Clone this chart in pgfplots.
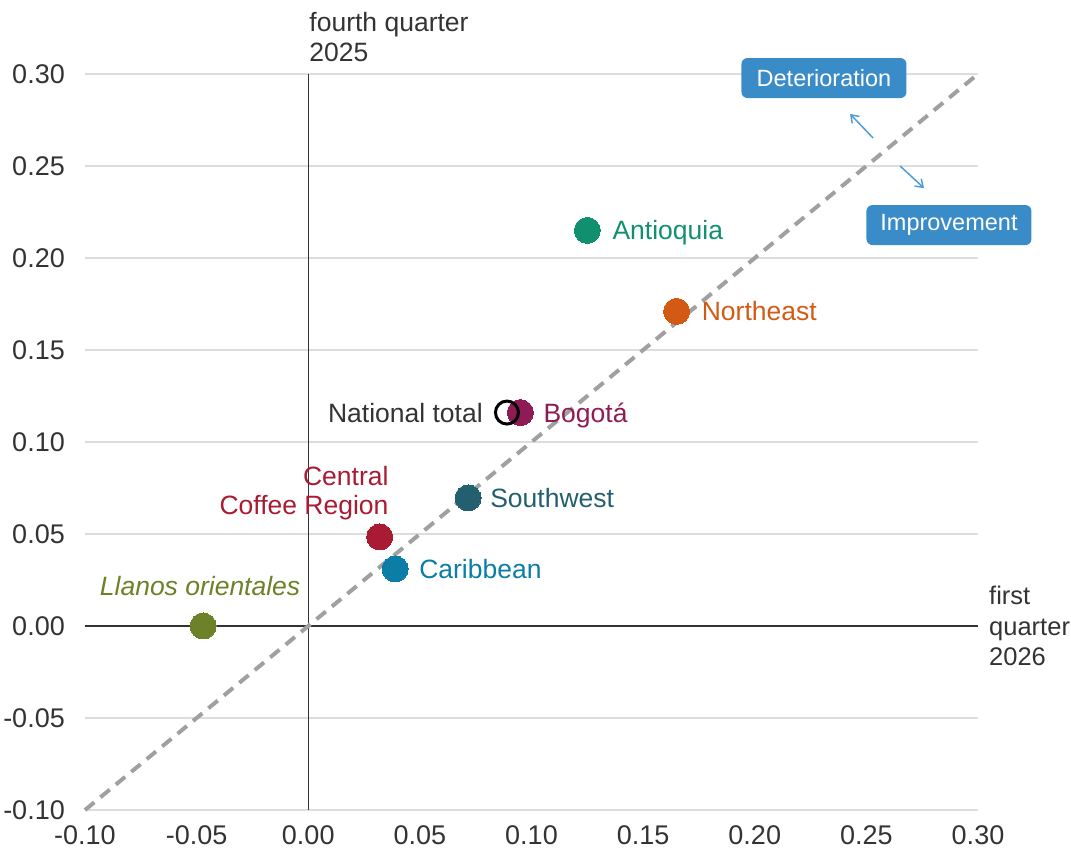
\documentclass[border=0pt]{standalone}
\usepackage{fontspec}
\setmainfont{Liberation Sans}
\usepackage{pgfplots}
\pgfplotsset{compat=1.18}
\usetikzlibrary{arrows.meta}
\definecolor{antC}{HTML}{11906F}
\definecolor{neC}{HTML}{D35A14}
\definecolor{bogC}{HTML}{8E1B55}
\definecolor{swC}{HTML}{245F70}
\definecolor{ccC}{HTML}{A81B33}
\definecolor{carC}{HTML}{0B7DA6}
\definecolor{llC}{HTML}{6C8128}
\definecolor{boxC}{HTML}{3A8CC8}
\definecolor{arrC}{HTML}{4E9DD3}
\definecolor{diagC}{HTML}{A0A0A0}
\definecolor{gridC}{HTML}{DDDDDD}
\definecolor{txtC}{HTML}{333333}
\tikzset{lab/.style={font=\fontsize{26.5}{29}\selectfont, inner sep=0pt}}
\begin{document}
\begin{tikzpicture}[x=1pt,y=1pt]
\useasboundingbox (-85,-49) rectangle (986,810);
\begin{axis}[
  at={(0,0)}, anchor=south west,
  scale only axis, width=893pt, height=736pt,
  xmin=-0.1, xmax=0.3, ymin=-0.1, ymax=0.3,
  xtick={-0.1,-0.05,0,0.05,0.1,0.15,0.2,0.25,0.3},
  ytick={-0.1,-0.05,0,0.05,0.1,0.15,0.2,0.25,0.3},
  axis line style={draw=none},
  major tick length=0pt,
  ymajorgrids, grid style={draw=gridC, line width=1.3pt},
  tick label style={font=\fontsize{27}{32}\selectfont, text=txtC, inner sep=0pt},
  xticklabel style={anchor=north, yshift=-15pt},
  yticklabel style={anchor=east, xshift=-20pt},
  /pgf/number format/fixed, /pgf/number format/fixed zerofill,
  /pgf/number format/precision=2, /pgf/number format/assume math mode=true,
  clip=false,
]
\draw[txtC, line width=1.5pt] (axis cs:0,-0.1) -- (axis cs:0,0.3);
\draw[txtC, line width=1.5pt] (axis cs:-0.1,0) -- (axis cs:0.3,0);
\addplot[diagC, line width=4pt, dash pattern=on 12pt off 8pt] coordinates {(-0.1,-0.1) (0.3,0.3)};

\addplot[only marks, mark=*, mark size=13pt, mark options={fill=antC, draw=antC, line width=0pt}]
  coordinates {(0.125,0.215)} node[lab, anchor=base west, xshift=25pt, yshift=-9.5pt, text=antC] {Antioquia};
\addplot[only marks, mark=*, mark size=13pt, mark options={fill=neC, draw=neC, line width=0pt}]
  coordinates {(0.165,0.171)} node[lab, anchor=base west, xshift=25pt, yshift=-9.5pt, text=neC] {Northeast};
\addplot[only marks, mark=*, mark size=13pt, mark options={fill=bogC, draw=bogC, line width=0pt}]
  coordinates {(0.095,0.116)} node[lab, anchor=base west, xshift=23pt, yshift=-9.5pt, text=bogC] {Bogotá};
\addplot[only marks, mark=*, mark size=13pt, mark options={fill=swC, draw=swC, line width=0pt}]
  coordinates {(0.0716,0.0696)} node[lab, anchor=base west, xshift=22pt, yshift=-9.5pt, text=swC] {Southwest};
\addplot[only marks, mark=*, mark size=13pt, mark options={fill=ccC, draw=ccC, line width=0pt}]
  coordinates {(0.032,0.0484)} node[lab, anchor=south east, align=right, xshift=9pt, yshift=17pt, text=ccC] {Central\\Coffee Region};
\addplot[only marks, mark=*, mark size=13pt, mark options={fill=carC, draw=carC, line width=0pt}]
  coordinates {(0.0389,0.031)} node[lab, anchor=base west, xshift=24pt, yshift=-9.5pt, text=carC] {Caribbean};
\addplot[only marks, mark=*, mark size=13pt, mark options={fill=llC, draw=llC, line width=0pt}]
  coordinates {(-0.0471,0.0)} node[lab, anchor=base, xshift=-3pt, yshift=30pt, text=llC, font=\fontsize{26.5}{29}\selectfont\itshape] {Llanos orientales};
\addplot[only marks, mark=o, mark size=11.5pt, mark options={draw=black, line width=3pt}]
  coordinates {(0.089,0.116)} node[lab, anchor=base east, xshift=-24pt, yshift=-9.5pt, text=txtC] {National total};

\node[lab, anchor=south west, align=left, xshift=1pt, yshift=12pt, text=txtC, font=\fontsize{26.5}{30}\selectfont] at (axis cs:0,0.3) {fourth quarter\\2025};
\node[lab, anchor=west, align=left, xshift=11pt, text=txtC, font=\fontsize{25.5}{30.5}\selectfont] at (axis cs:0.3,0) {first\\quarter\\2026};

\node[fill=boxC, text=white, rounded corners=6pt, minimum width=165pt, minimum height=40pt, font=\fontsize{23.5}{26}\selectfont] at (axis cs:0.231,0.2978) {Deterioration};
\node[fill=boxC, text=white, rounded corners=6pt, minimum width=165pt, minimum height=40pt, font=\fontsize{23.5}{26}\selectfont] at (axis cs:0.287,0.2179) {Improvement};
\draw[arrC, line width=1.5pt, -{Straight Barb[length=7pt,width=10pt]}] (axis cs:0.2530,0.2652) -- (axis cs:0.2427,0.2783);
\draw[arrC, line width=1.5pt, -{Straight Barb[length=7pt,width=10pt]}] (axis cs:0.2651,0.25) -- (axis cs:0.2758,0.238);
\end{axis}
\end{tikzpicture}
\end{document}
